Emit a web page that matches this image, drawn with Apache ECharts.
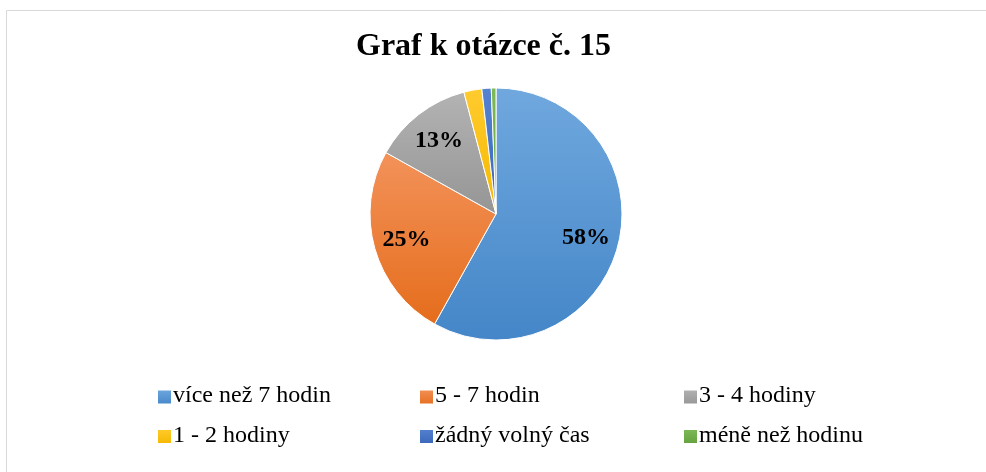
<!DOCTYPE html>
<html><head><meta charset="utf-8">
<script src="https://cdn.jsdelivr.net/npm/echarts@6/dist/echarts.min.js"></script>
<style>html,body{margin:0;padding:0;background:#fff}#c{width:986px;height:472px}</style>
</head><body><div id="c"></div>
<script>
const titleText = 'Graf k otázce č. 15';
const categories = ['více než 7 hodin', '5 - 7 hodin', '3 - 4 hodiny', '1 - 2 hodiny', 'žádný volný čas', 'méně než hodinu'];
const values = [58.1, 25.0, 12.8, 2.3, 1.2, 0.6];
const colorsTop = ['#70a8de', '#f3925a', '#b3b3b3', '#ffcb2e', '#5582d0', '#7fba58'];
const colorsBottom = ['#4486c8', '#e56d1c', '#959595', '#f5b800', '#3a66b8', '#63a03c'];

const FONT = '"Liberation Serif", "Times New Roman", Times, "DejaVu Serif", serif';
const grad = i => ({type:'linear', x:0, y:0, x2:0, y2:1, colorStops:[{offset:0,color:colorsTop[i]},{offset:1,color:colorsBottom[i]}]});

const pieData = categories.map((n, i) => ({name: n, value: values[i], itemStyle: {color: grad(i)}}));
const labelData = categories.map((n, i) => ({name: n, value: values[i], label: {show: values[i] >= 5}}));

// legend layout: icon left x, icon centre y
const legendX = [157, 419, 683, 157, 419, 683];
const legendY = [396, 396, 396, 435.5, 435.5, 435.5];
const ICON = 15;
const legends = categories.map((n, i) => ({
  data: [n],
  left: legendX[i] - 1, top: legendY[i] - ICON / 2, padding: 0,
  itemWidth: ICON, itemHeight: ICON, itemGap: 0, selectedMode: false, icon: 'rect',
  formatter: () => '',
  textStyle: {fontSize: 1}
}));
const legendTexts = categories.map((n, i) => ({
  type: 'text', x: legendX[i] + 16, y: legendY[i], silent: true,
  style: {text: n, fontFamily: FONT, fontSize: 24, fontWeight: 'normal', fill: '#000', verticalAlign: 'middle', align: 'left'}
}));

const chart = echarts.init(document.getElementById('c'), null, {renderer: 'canvas'});
chart.setOption({
  animation: false,
  graphic: [{type: 'rect', shape: {x: 6.5, y: 10.5, width: 1000, height: 500}, style: {fill: 'none', stroke: '#d9d9d9', lineWidth: 1}, silent: true}].concat(legendTexts),
  title: {text: titleText, left: 356, top: 31, padding: 0,
    textStyle: {fontFamily: FONT, fontSize: 32, fontWeight: 'bold', color: '#000'}},
  legend: legends,
  series: [
    {type: 'pie', center: [496, 214], radius: [0, 126], startAngle: 90, clockwise: true,
     label: {show: false}, labelLine: {show: false},
     itemStyle: {borderColor: '#fff', borderWidth: 1}, emphasis: {disabled: true},
     data: pieData},
    {type: 'pie', center: [496, 214], radius: [0, 180], startAngle: 90, clockwise: true, silent: true,
     itemStyle: {color: 'rgba(0,0,0,0)'}, emphasis: {disabled: true}, legendHoverLink: false,
     label: {position: 'inside', fontFamily: FONT, fontSize: 24, fontWeight: 'bold', color: '#000',
       formatter: p => Math.round(p.value) + '%'},
     labelLine: {show: false},
     data: labelData}
  ]
});
</script></body></html>
